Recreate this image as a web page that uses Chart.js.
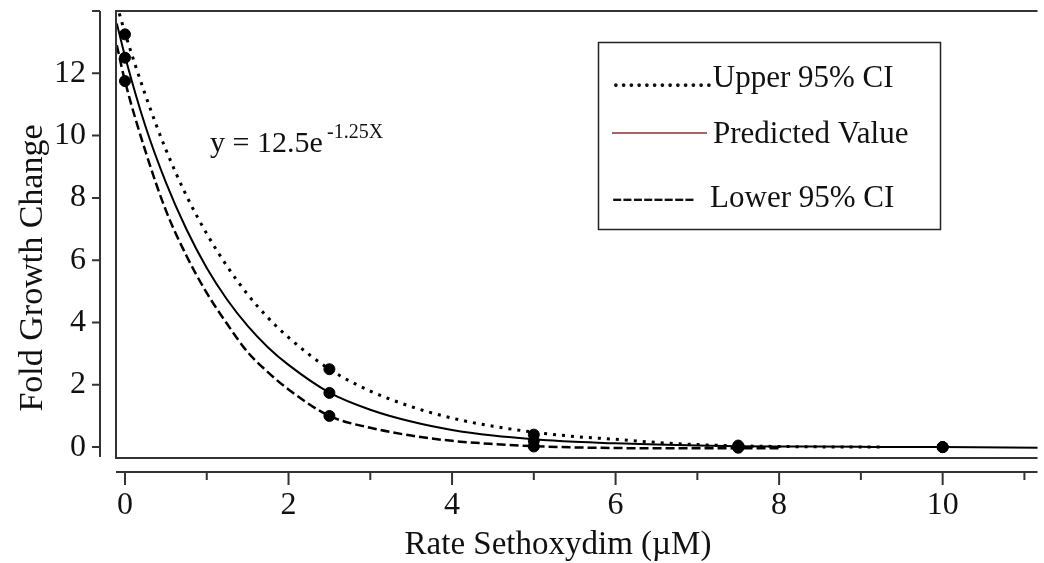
<!DOCTYPE html>
<html lang="en">
<head>
<meta charset="UTF-8">
<title>Fold Growth Change vs Sethoxydim</title>
<script src="https://cdn.jsdelivr.net/npm/chart.js"></script>
<style>
    body { margin: 0; background: #fff; }
    .wrap { width: 1044px; height: 563px; position: relative; }
</style>
</head>
<body>
<div class="wrap"><canvas id="growthChart"></canvas></div>
<script>
// sample positions along the fitted curves (µM)
const curveX    = [-0.1, 0, 0.25, 0.5, 0.75, 1, 1.25, 1.5, 1.75, 2, 2.5, 3, 3.5, 4, 4.5, 5, 5.5, 6, 6.5, 7, 7.5, 8, 9, 9.3, 10, 11.2];
const upperCI   = [14.2, 13.3, 11.3, 9.55, 8.08, 6.85, 5.8, 4.9, 4.15, 3.52, 2.5, 1.8, 1.3, 0.93, 0.67, 0.48, 0.34, 0.25, 0.15, 0.08, 0.04, 0.02, 0.0, 0.0, null, null];
const predicted = [13.6, 12.55, 10.3, 8.5, 7.0, 5.75, 4.73, 3.89, 3.2, 2.64, 1.75, 1.2, 0.82, 0.55, 0.37, 0.25, 0.17, 0.12, 0.08, 0.05, 0.03, 0.02, 0.01, 0.0, 0.0, -0.02];
const lowerCI   = [12.9, 11.75, 9.5, 7.6, 6.15, 4.95, 3.95, 3.05, 2.4, 1.85, 1.0, 0.62, 0.37, 0.2, 0.1, 0.03, -0.01, -0.03, -0.04, -0.04, -0.04, -0.04, null, null, null, null];

// observed points
const obsX = [0, 0, 0, 2.5, 2.5, 2.5, 5, 5, 5, 7.5, 7.5, 7.5, 10, 10, 10];
const obsY = [13.25, 12.5, 11.75, 2.5, 1.74, 1.0, 0.4, 0.2, 0.02, 0.05, 0.0, -0.02, 0.0, 0.0, 0.0];

const xTicks = [0, 2, 4, 6, 8, 10];
const xMinor = [1, 3, 5, 7, 9, 11];
const yTicks = [0, 2, 4, 6, 8, 10, 12];
const yTop = 14;

const serif = '"Liberation Serif", "Times New Roman", serif';

function pts(xs, ys) {
    const out = [];
    xs.forEach((v, i) => { if (ys[i] !== null) out.push({ x: v, y: ys[i] }); });
    return out;
}

// frame, offset axes, titles, equation and legend box
const overlay = {
    id: 'overlay',
    afterDraw(chart) {
        const { ctx, chartArea: a, scales: { x, y } } = chart;
        ctx.save();
        ctx.strokeStyle = '#333';
        ctx.lineWidth = 2;

        ctx.beginPath();
        ctx.moveTo(a.right, a.top);
        ctx.lineTo(a.left, a.top);
        ctx.lineTo(a.left, a.bottom);
        ctx.lineTo(a.right, a.bottom);
        ctx.stroke();

        // y spine sits left of the frame
        const sx = a.left - 16;
        ctx.beginPath();
        ctx.moveTo(sx, y.getPixelForValue(yTop));
        ctx.lineTo(sx, a.bottom - 1);
        yTicks.concat([yTop]).forEach(v => {
            const p = y.getPixelForValue(v);
            ctx.moveTo(sx - 8, p);
            ctx.lineTo(sx, p);
        });
        ctx.stroke();

        // x spine sits under the frame
        const sy = a.bottom + 14;
        ctx.beginPath();
        ctx.moveTo(a.left, sy);
        ctx.lineTo(a.right, sy);
        xTicks.forEach(v => { const p = x.getPixelForValue(v); ctx.moveTo(p, sy); ctx.lineTo(p, sy + 13); });
        xMinor.forEach(v => { const p = x.getPixelForValue(v); ctx.moveTo(p, sy); ctx.lineTo(p, sy + 8); });
        ctx.stroke();

        ctx.fillStyle = '#111';
        ctx.textBaseline = 'middle';
        ctx.textAlign = 'center';
        ctx.font = '33px ' + serif;
        ctx.fillText('Rate Sethoxydim (\u00b5M)', 558, 545);

        ctx.save();
        ctx.translate(33, 268);
        ctx.rotate(-Math.PI / 2);
        ctx.font = '34px ' + serif;
        ctx.fillText('Fold Growth Change', 0, 0);
        ctx.restore();

        // equation
        ctx.textAlign = 'left';
        ctx.textBaseline = 'alphabetic';
        ctx.font = '30px ' + serif;
        ctx.fillText('y = 12.5e', 210, 152);
        ctx.font = '20px ' + serif;
        ctx.fillText('-1.25X', 327, 138);

        // legend
        ctx.lineWidth = 1.5;
        ctx.strokeStyle = '#222';
        ctx.strokeRect(598.5, 42.5, 342, 187);
        ctx.font = '31px ' + serif;
        ctx.fillText('.............Upper 95% CI', 612, 87);
        ctx.fillText('Predicted Value', 713, 143);
        ctx.fillText('--------  Lower 95% CI', 612, 207);
        ctx.strokeStyle = '#8b3030';
        ctx.lineWidth = 1.5;
        ctx.beginPath();
        ctx.moveTo(612, 133);
        ctx.lineTo(707, 133);
        ctx.stroke();
        ctx.restore();
    }
};

new Chart(document.getElementById('growthChart'), {
    type: 'scatter',
    data: {
        datasets: [
            {
                label: 'Observed',
                data: pts(obsX, obsY),
                backgroundColor: '#000',
                borderColor: '#000',
                pointRadius: 5.5,
                order: 0
            },
            {
                type: 'line',
                label: 'Upper 95% CI',
                data: pts(curveX, upperCI),
                borderColor: '#000',
                borderWidth: 3,
                borderDash: [3, 6],
                pointRadius: 0,
                cubicInterpolationMode: 'monotone',
                order: 1
            },
            {
                type: 'line',
                label: 'Predicted Value',
                data: pts(curveX, predicted),
                borderColor: '#000',
                borderWidth: 2,
                pointRadius: 0,
                cubicInterpolationMode: 'monotone',
                order: 1
            },
            {
                type: 'line',
                label: 'Lower 95% CI',
                data: pts(curveX, lowerCI),
                borderColor: '#000',
                borderWidth: 2.5,
                borderDash: [9, 4],
                pointRadius: 0,
                cubicInterpolationMode: 'monotone',
                order: 1
            }
        ]
    },
    options: {
        responsive: true,
        maintainAspectRatio: false,
        animation: false,
        layout: { padding: { top: 11, left: 0, right: 0, bottom: 0 } },
        plugins: { legend: { display: false }, tooltip: { enabled: false } },
        scales: {
            x: {
                type: 'linear',
                min: -0.11,
                max: 11.16,
                border: { display: false },
                grid: { display: false, drawTicks: false },
                afterFit(scale) {
                    scale.height = 105;
                    scale.paddingLeft = 0;
                    scale.paddingRight = 0;
                },
                afterBuildTicks(scale) { scale.ticks = xTicks.map(v => ({ value: v })); },
                ticks: { color: '#111', padding: 28, font: { family: serif, size: 32 } }
            },
            y: {
                min: -0.35,
                max: yTop,
                border: { display: false },
                grid: { display: false, drawTicks: false },
                afterFit(scale) {
                    scale.width = 116;
                    scale.paddingTop = 0;
                    scale.paddingBottom = 0;
                },
                afterBuildTicks(scale) { scale.ticks = yTicks.map(v => ({ value: v })); },
                ticks: { color: '#111', padding: 30, font: { family: serif, size: 32 } }
            }
        }
    },
    plugins: [overlay]
});
</script>
</body>
</html>
